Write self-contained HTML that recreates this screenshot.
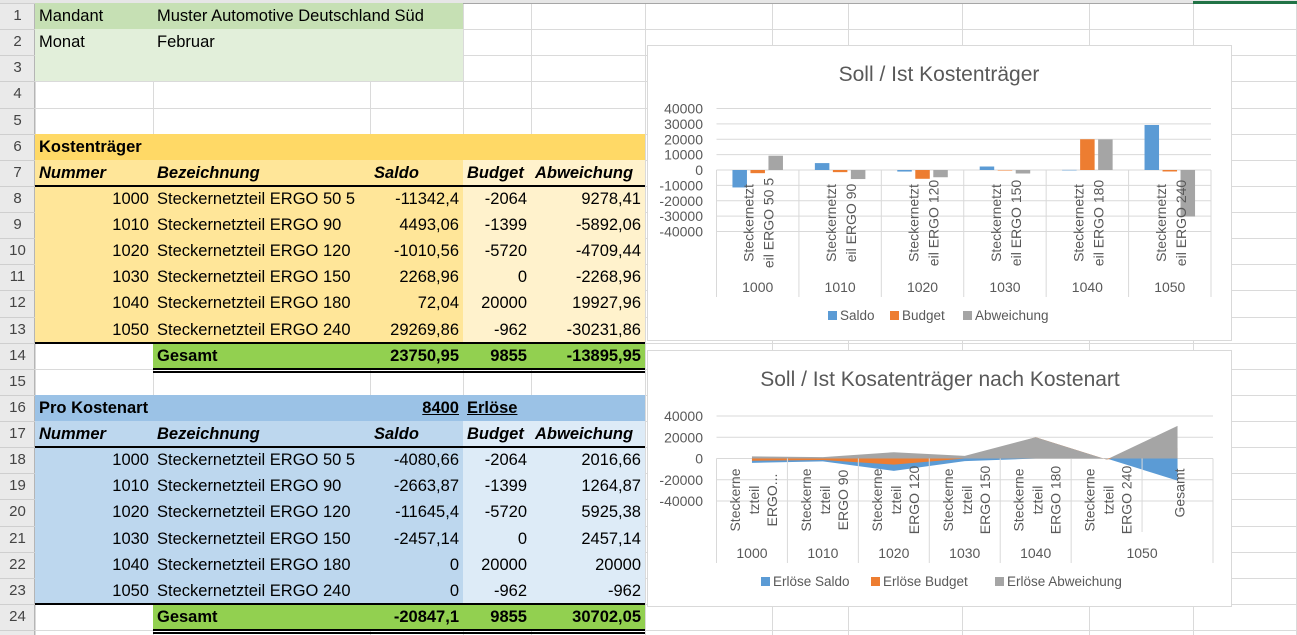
<!DOCTYPE html>
<html><head><meta charset="utf-8">
<style>
html,body{margin:0;padding:0;background:#fff;}
#sheet{position:relative;width:1297px;height:635px;overflow:hidden;font-family:"Liberation Sans",Arial,sans-serif;background:#fff;}
#sheet div{position:absolute;box-sizing:border-box;}
.t{font-size:16.5px;color:#000;white-space:nowrap;line-height:26px;}
.rh{font-size:15px;color:#444;text-align:center;line-height:26px;}
svg text{font-family:"Liberation Sans",Arial,sans-serif;}
</style></head>
<body>
<div id="sheet"></div>
<script>
// ---------- table data ----------
const kNum=['1000','1010','1020','1030','1040','1050'];
const kName=['Steckernetzteil ERGO 50 5','Steckernetzteil ERGO 90','Steckernetzteil ERGO 120','Steckernetzteil ERGO 150','Steckernetzteil ERGO 180','Steckernetzteil ERGO 240'];
const kSaldoTxt=['-11342,4','4493,06','-1010,56','2268,96','72,04','29269,86'];
const kBudgetTxt=['-2064','-1399','-5720','0','20000','-962'];
const kAbwTxt=['9278,41','-5892,06','-4709,44','-2268,96','19927,96','-30231,86'];
const eSaldoTxt=['-4080,66','-2663,87','-11645,4','-2457,14','0','0'];
const eBudgetTxt=['-2064','-1399','-5720','0','20000','-962'];
const eAbwTxt=['2016,66','1264,87','5925,38','2457,14','20000','-962'];

// ---------- chart 1 data ----------
const c1Cats=['1000','1010','1020','1030','1040','1050'];
const c1Leaf=[['Steckernetzt','eil ERGO 50 5'],['Steckernetzt','eil ERGO 90'],['Steckernetzt','eil ERGO 120'],['Steckernetzt','eil ERGO 150'],['Steckernetzt','eil ERGO 180'],['Steckernetzt','eil ERGO 240']];
const c1Saldo=[-11342.4,4493.06,-1010.56,2268.96,72.04,29269.86];
const c1Budget=[-2064,-1399,-5720,0,20000,-962];
const c1Abw=[9278.41,-5892.06,-4709.44,-2268.96,19927.96,-30231.86];
const c1Ticks=[40000,30000,20000,10000,0,-10000,-20000,-30000,-40000];

// ---------- chart 2 data ----------
const c2Groups=['1000','1010','1020','1030','1040','1050'];
const c2Leaf=[['Steckerne','tzteil','ERGO...'],['Steckerne','tzteil','ERGO 90'],['Steckerne','tzteil','ERGO 120'],['Steckerne','tzteil','ERGO 150'],['Steckerne','tzteil','ERGO 180'],['Steckerne','tzteil','ERGO 240'],['Gesamt']];
const c2Saldo=[-4080.66,-2663.87,-11645.4,-2457.14,0,0,-20847.1];
const c2Budget=[-2064,-1399,-5720,0,20000,-962,9855];
const c2Abw=[2016.66,1264.87,5925.38,2457.14,20000,-962,30702.05];
const c2Ticks=[40000,20000,0,-20000,-40000];

const sheet=document.getElementById('sheet');
const rowH=26.13, top0=3;
function rt(k){return top0+rowH*(k-1);}
const COL={A:[35,153],B:[153,370],C:[370,463],D:[463,531],E:[531,645]};
const VLINES=[35,153,370,463,531,645,772,848,962,1089,1193,1296];

function box(name,x,y,w,h,bg){
  const d=document.createElement('div');
  
  
  d.style.left=x+'px';d.style.top=y+'px';d.style.width=w+'px';d.style.height=h+'px';
  if(bg)d.style.background=bg;
  sheet.appendChild(d);return d;
}
// gridlines
for(let k=1;k<=25;k++){box('row-gridline',35,Math.round(rt(k)),1262,1,'#DADADA');}
VLINES.forEach(x=>{box('column-gridline',x,3,1,632,'#DADADA');});
// header strips
box('column-header-strip',0,0,1297,3,'#E6E6E6');
box('column-header-border',0,3,1297,1,'#A6A6A6');
box('selected-column-marker',1193,1,104,3,'#217346');
box('row-header-column',0,3,35,632,'#EAEAEA');
box('row-header-border',34,3,1,632,'#B5B5B5');
for(let k=1;k<=25;k++){
  box('row-header-separator',0,Math.round(rt(k)),35,1,'#CFCFCF');
  if(k<=24){
    const d=box('row-number-'+k,0,rt(k),35,rowH,null);
    d.className='rh';d.textContent=k;
  }
}
function fill(name,k1,k2,c1,c2,color){
  const x=COL[c1][0], x2=COL[c2][1];
  const y=Math.round(rt(k1)), y2=Math.round(rt(k2+1));
  box(name,x,y,x2-x,y2-y,color);
}
fill('header-fill-mandant',1,1,'A','C','#C6E0B4');
fill('header-fill-monat',2,3,'A','C','#E2EFDA');
fill('kostentraeger-title-fill',6,6,'A','E','#FFD966');
fill('kostentraeger-fill-left',7,13,'A','C','#FFE699');
fill('kostentraeger-fill-right',7,13,'D','E','#FFF2CC');
fill('kostentraeger-total-fill',14,14,'B','E','#92D050');
fill('kostenart-title-fill',16,16,'A','E','#9BC2E6');
fill('kostenart-fill-left',17,23,'A','C','#BDD7EE');
fill('kostenart-fill-right',17,23,'D','E','#DDEBF7');
fill('kostenart-total-fill',24,24,'B','E','#92D050');
function hline(name,k,c1,c2,dbl){
  const x=COL[c1][0], x2=COL[c2][1], y=Math.round(rt(k+1));
  box(name,x,y-1,x2-x,1.5,'#000');
  if(dbl)box(name+'-2',x,y+2,x2-x,1.5,'#000');
}
hline('header-border-7',7,'A','E');
hline('border-13',13,'A','E');
hline('total-double-border-14',14,'B','E',true);
hline('header-border-17',17,'A','E');
hline('border-23',23,'A','E');
hline('total-double-border-24',24,'B','E',true);

function txt(name,k,c,text,o){
  o=o||{};
  const [x,x2]=COL[c];
  let d;
  if(o.right){d=box(name,x,rt(k),x2-x-4,rowH,null);d.style.textAlign='right';}
  else{d=box(name,x+4,rt(k),900,rowH,null);}
  d.className='t';d.textContent=text;
  if(o.bold)d.style.fontWeight='bold';
  if(o.italic)d.style.fontStyle='italic';
  if(o.u)d.style.textDecoration='underline';
  return d;
}
txt('mandant-label',1,'A','Mandant');
txt('mandant-value',1,'B','Muster Automotive Deutschland Süd');
txt('monat-label',2,'A','Monat');
txt('monat-value',2,'B','Februar');
txt('kostentraeger-title',6,'A','Kostenträger',{bold:true});
function headers(k,prefix){
  const bi={bold:true,italic:true};
  txt(prefix+'-header-nummer',k,'A','Nummer',bi);
  txt(prefix+'-header-bezeichnung',k,'B','Bezeichnung',bi);
  txt(prefix+'-header-saldo',k,'C','Saldo',bi);
  txt(prefix+'-header-budget',k,'D','Budget',bi);
  txt(prefix+'-header-abweichung',k,'E','Abweichung',bi);
}
headers(7,'kostentraeger');
for(let i=0;i<6;i++){
  txt('kostentraeger-nummer',8+i,'A',kNum[i],{right:true});
  txt('kostentraeger-bezeichnung',8+i,'B',kName[i]);
  txt('kostentraeger-saldo',8+i,'C',kSaldoTxt[i],{right:true});
  txt('kostentraeger-budget',8+i,'D',kBudgetTxt[i],{right:true});
  txt('kostentraeger-abweichung',8+i,'E',kAbwTxt[i],{right:true});
}
txt('kostentraeger-gesamt-label',14,'B','Gesamt',{bold:true});
txt('kostentraeger-gesamt-saldo',14,'C','23750,95',{bold:true,right:true});
txt('kostentraeger-gesamt-budget',14,'D','9855',{bold:true,right:true});
txt('kostentraeger-gesamt-abweichung',14,'E','-13895,95',{bold:true,right:true});
txt('kostenart-title',16,'A','Pro Kostenart',{bold:true});
txt('kostenart-number',16,'C','8400',{bold:true,right:true,u:true});
txt('kostenart-name',16,'D','Erlöse',{bold:true,u:true});
headers(17,'kostenart');
for(let i=0;i<6;i++){
  txt('kostenart-nummer',18+i,'A',kNum[i],{right:true});
  txt('kostenart-bezeichnung',18+i,'B',kName[i]);
  txt('kostenart-saldo',18+i,'C',eSaldoTxt[i],{right:true});
  txt('kostenart-budget',18+i,'D',eBudgetTxt[i],{right:true});
  txt('kostenart-abweichung',18+i,'E',eAbwTxt[i],{right:true});
}
txt('kostenart-gesamt-label',24,'B','Gesamt',{bold:true});
txt('kostenart-gesamt-saldo',24,'C','-20847,1',{bold:true,right:true});
txt('kostenart-gesamt-budget',24,'D','9855',{bold:true,right:true});
txt('kostenart-gesamt-abweichung',24,'E','30702,05',{bold:true,right:true});

// ---------- SVG charts ----------
const NS='http://www.w3.org/2000/svg';
const svg=document.createElementNS(NS,'svg');
svg.setAttribute('width','1297');svg.setAttribute('height','635');
svg.setAttribute('style','position:absolute;left:0;top:0;');


sheet.appendChild(svg);
function el(tag,name,attrs,parent,text){
  const e=document.createElementNS(NS,tag);
  
  
  for(const k in attrs)e.setAttribute(k,attrs[k]);
  if(text!==undefined)e.textContent=text;
  (parent||svg).appendChild(e);return e;
}
const BLUE='#5B9BD5',ORANGE='#ED7D31',GRAY='#A5A5A5',TXT='#595959',GRID='#D9D9D9';

// Chart 1
const g1=el('g','chart-kostentraeger',{});
el('rect','chart1-frame',{x:647.5,y:45.5,width:584,height:295,fill:'#fff',stroke:'#D9D9D9'},g1);
el('text','chart1-title',{x:939,y:81,'text-anchor':'middle','font-size':21,fill:TXT},g1,'Soll / Ist Kostenträger');
const a1X0=716.5,a1X1=1211,a1cw=(a1X1-a1X0)/c1Cats.length;
function y1(v){return 170-v*61.5/40000;}
c1Ticks.forEach(t=>{
  el('line','chart1-gridline',{x1:a1X0,x2:a1X1,y1:y1(t),y2:y1(t),stroke:GRID,'stroke-width':1},g1);
  el('text','chart1-y-tick-label',{x:703,y:y1(t)+5,'text-anchor':'end','font-size':14,fill:TXT},g1,String(t));
});
for(let i=0;i<=c1Cats.length;i++){
  const x=a1X0+i*a1cw;
  el('line','chart1-category-divider',{x1:x,x2:x,y1:y1(0),y2:297,stroke:GRID},g1);
}
const b1W=a1cw*14.5/82.4,b1G=a1cw*3.5/82.4,b1P=(a1cw-3*b1W-2*b1G)/2;
[[c1Saldo,BLUE,'saldo'],[c1Budget,ORANGE,'budget'],[c1Abw,GRAY,'abweichung']].forEach((s,si)=>{
  s[0].forEach((v,i)=>{
    const x=a1X0+i*a1cw+b1P+si*(b1W+b1G);
    const ya=y1(v),yb=y1(0);
    el('rect','bar-'+s[2]+'-'+c1Cats[i],{x:x,y:Math.min(ya,yb),width:b1W,height:Math.max(Math.abs(ya-yb),0.5),fill:s[1]},g1);
  });
});
c1Leaf.forEach((lines,i)=>{
  const cx=a1X0+(i+0.5)*a1cw;
  const offs=[-9,11];
  lines.forEach((ln,j)=>{
    const bx=cx+offs[j]+5, by=223;
    el('text','chart1-category-label',{x:bx,y:by,'text-anchor':'middle','font-size':14,fill:TXT,transform:'rotate(-90 '+bx+' '+by+')'},g1,ln);
  });
  el('text','chart1-group-label',{x:cx,y:292,'text-anchor':'middle','font-size':14,fill:TXT},g1,c1Cats[i]);
});
[['Saldo',BLUE,828],['Budget',ORANGE,890],['Abweichung',GRAY,963]].forEach(l=>{
  el('rect','chart1-legend-swatch',{x:l[2],y:311,width:9,height:9,fill:l[1]},g1);
  el('text','chart1-legend-entry',{x:l[2]+12,y:320,'font-size':13.5,fill:TXT},g1,l[0]);
});

// Chart 2
const g2=el('g','chart-kostenart',{});
el('rect','chart2-frame',{x:647.5,y:350.5,width:584,height:256,fill:'#fff',stroke:'#D9D9D9'},g2);
el('text','chart2-title',{x:940,y:386,'text-anchor':'middle','font-size':21,fill:TXT},g2,'Soll / Ist Kosatenträger nach Kostenart');
const a2X0=716.5,a2X1=1213,a2n=c2Leaf.length,a2cw=(a2X1-a2X0)/a2n;
function y2(v){return 458.5-v*85/80000;}
function x2(i){return a2X0+(i+0.5)*a2cw;}
c2Ticks.forEach(t=>{
  el('line','chart2-gridline',{x1:a2X0,x2:a2X1,y1:y2(t),y2:y2(t),stroke:GRID},g2);
  el('text','chart2-y-tick-label',{x:703,y:y2(t)+5,'text-anchor':'end','font-size':14,fill:TXT},g2,String(t));
});
[[c2Saldo,BLUE,'area-erloese-saldo'],[c2Budget,ORANGE,'area-erloese-budget'],[c2Abw,GRAY,'area-erloese-abweichung']].forEach(s=>{
  let pts=x2(0)+','+y2(0);
  s[0].forEach((v,i)=>{pts+=' '+x2(i)+','+y2(v);});
  pts+=' '+x2(s[0].length-1)+','+y2(0);
  el('polygon',s[2],{points:pts,fill:s[1]},g2);
});
for(let i=0;i<=a2n;i++){
  const x=a2X0+i*a2cw;
  const yEnd=(i===6)?532:563;
  el('line','chart2-category-divider',{x1:x,x2:x,y1:y2(0),y2:yEnd,stroke:GRID},g2);
}
c2Leaf.forEach((lines,i)=>{
  const cx=x2(i);
  const offs=lines.length===3?[-17,2,20]:[2];
  lines.forEach((ln,j)=>{
    const bx=cx+offs[j]+5, by=lines.length===3?500:493;
    el('text','chart2-category-label',{x:bx,y:by,'text-anchor':'middle','font-size':14,fill:TXT,transform:'rotate(-90 '+bx+' '+by+')'},g2,ln);
  });
});
c2Groups.forEach((g,i)=>{
  const cx=(i<5)?x2(i):a2X0+6*a2cw;
  el('text','chart2-group-label',{x:cx,y:558,'text-anchor':'middle','font-size':14,fill:TXT},g2,g);
});
[['Erlöse Saldo',BLUE,761],['Erlöse Budget',ORANGE,871],['Erlöse Abweichung',GRAY,995]].forEach(l=>{
  el('rect','chart2-legend-swatch',{x:l[2],y:577,width:9,height:9,fill:l[1]},g2);
  el('text','chart2-legend-entry',{x:l[2]+12,y:586,'font-size':13.5,fill:TXT},g2,l[0]);
});
</script>
</body></html>
